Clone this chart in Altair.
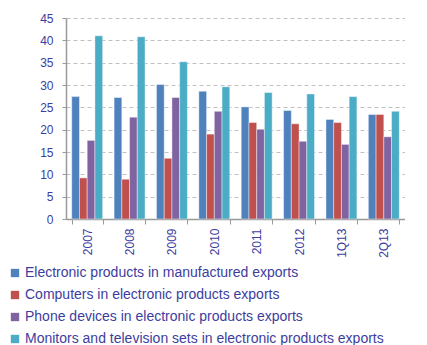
import altair as alt
import pandas as pd

periods = ["2007", "2008", "2009", "2010", "2011", "2012", "1Q13", "2Q13"]
series = [
    "Electronic products in manufactured exports",
    "Computers in electronic products exports",
    "Phone devices in electronic products exports",
    "Monitors and television sets in electronic products exports",
]
electronic = [27.4, 27.2, 30.1, 28.6, 25.1, 24.3, 22.3, 23.4]
computers = [9.2, 8.9, 13.6, 19.0, 21.6, 21.3, 21.6, 23.4]
phones = [17.6, 22.8, 27.2, 24.1, 20.1, 17.4, 16.7, 18.4]
monitors = [41.0, 40.8, 35.2, 29.6, 28.3, 28.0, 27.4, 24.1]
colors = ["#4F81BD", "#C0504D", "#8064A2", "#4BACC6"]

rows = []
for s, vals in zip(series, [electronic, computers, phones, monitors]):
    for p, v in zip(periods, vals):
        rows.append({"period": p, "series": s, "value": v})
df = pd.DataFrame(rows)

txt = "#3d3d9e"
font = "Liberation Sans"

chart = alt.Chart(df).mark_bar(
    stroke="white", strokeWidth=0.6, strokeOpacity=0.7
).encode(
    x=alt.X("period:N", sort=periods, title=None,
            scale=alt.Scale(paddingInner=0.27, paddingOuter=0.135),
            axis=alt.Axis(labelAngle=-90, labelColor=txt, labelFontSize=12,
                          labelFont=font, tickBand="extent", tickSize=5,
                          tickColor="#999999", domainColor="#999999",
                          domainWidth=1.5, labelPadding=4, grid=False)),
    xOffset=alt.XOffset("series:N", sort=series),
    y=alt.Y("value:Q", title=None,
            scale=alt.Scale(domain=[0, 45]),
            axis=alt.Axis(values=list(range(0, 50, 5)), labelColor=txt,
                          labelFontSize=12, labelFont=font, tickSize=4,
                          tickColor="#999999", domainColor="#999999",
                          domainWidth=1.5, labelPadding=9,
                          gridColor="#c0c0c0", gridDash=[4, 3])),
    color=alt.Color("series:N", sort=series,
                    scale=alt.Scale(domain=series, range=colors),
                    legend=alt.Legend(title=None, orient="none",
                                      legendX=-58, legendY=248,
                                      direction="vertical",
                                      symbolType="square", symbolSize=70,
                                      symbolStrokeWidth=0,
                                      labelFontSize=14, labelFont=font,
                                      labelColor=txt, labelLimit=600,
                                      rowPadding=8, labelOffset=3,
                                      padding=0)),
).properties(
    width=339, height=201, padding={"left": 0, "top": 4, "right": 0, "bottom": 0}
).configure_view(stroke=None)

chart.save("out.html", embed_options={"renderer": "svg", "actions": False})
